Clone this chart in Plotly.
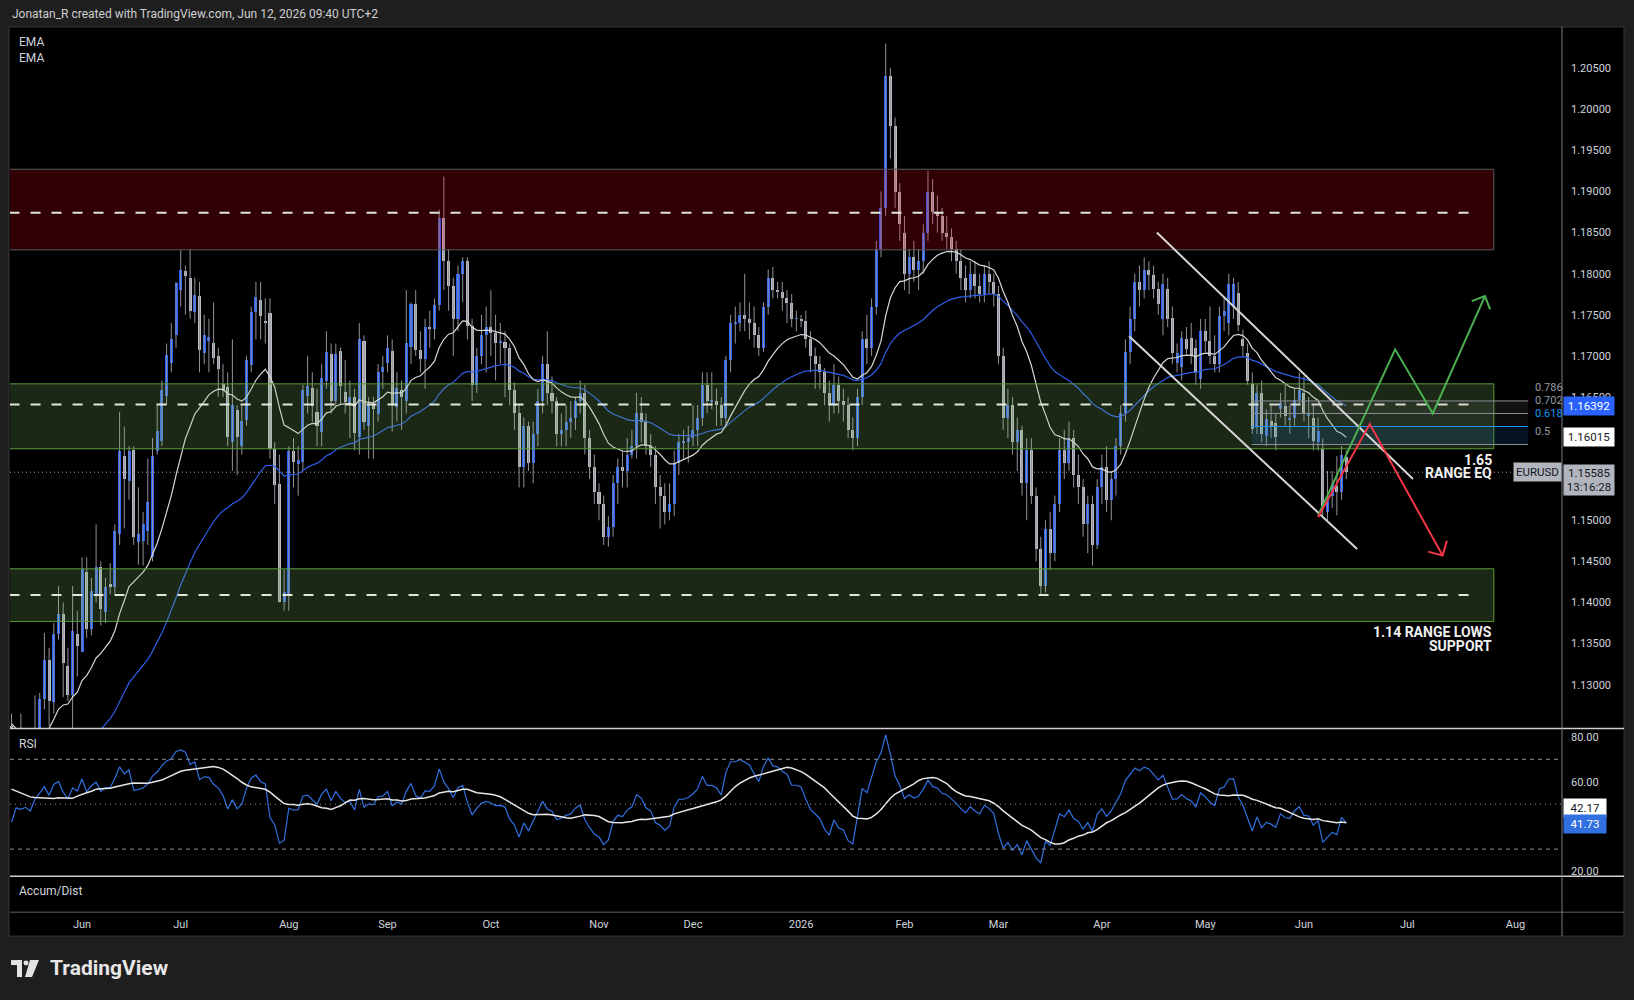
import pandas as pd
import plotly.graph_objects as go

# ---------------- DATA: EURUSD daily candles (open, high, low, close) -------------
may_2025 = [
    (1.1250, 1.1265, 1.1065, 1.1089), (1.1089, 1.1195, 1.1075, 1.1186), (1.1186, 1.1265, 1.1170, 1.1175),
    (1.1175, 1.1210, 1.1130, 1.1188), (1.1188, 1.1228, 1.1130, 1.1163), (1.1163, 1.1287, 1.1150, 1.1242),
    (1.1242, 1.1290, 1.1210, 1.1283), (1.1283, 1.1363, 1.1270, 1.1330), (1.1330, 1.1345, 1.1250, 1.1280),
    (1.1279, 1.1375, 1.1265, 1.1362), (1.1362, 1.1420, 1.1355, 1.1386), (1.1386, 1.1400, 1.1285, 1.1326),
    (1.1323, 1.1345, 1.1280, 1.1287), (1.1287, 1.1420, 1.1210, 1.1365), (1.1362, 1.1390, 1.1310, 1.1347),
]
jun_2025 = [
    (1.1340, 1.1455, 1.1340, 1.1441), (1.1437, 1.1455, 1.1357, 1.1368), (1.1368, 1.1430, 1.1360, 1.1414),
    (1.1410, 1.1495, 1.1400, 1.1443), (1.1443, 1.1450, 1.1372, 1.1392), (1.1389, 1.1430, 1.1375, 1.1419),
    (1.1422, 1.1448, 1.1410, 1.1420), (1.1419, 1.1495, 1.1410, 1.1487), (1.1483, 1.1632, 1.1470, 1.1584),
    (1.1578, 1.1614, 1.1490, 1.1550), (1.1548, 1.1590, 1.1525, 1.1584), (1.1585, 1.1590, 1.1470, 1.1480),
    (1.1474, 1.1540, 1.1446, 1.1484), (1.1475, 1.1510, 1.1445, 1.1496), (1.1487, 1.1575, 1.1470, 1.1522),
    (1.1455, 1.1600, 1.1450, 1.1578), (1.1584, 1.1640, 1.1580, 1.1609), (1.1596, 1.1670, 1.1590, 1.1659),
    (1.1651, 1.1715, 1.1640, 1.1701), (1.1692, 1.1740, 1.1680, 1.1720), (1.1726, 1.1790, 1.1710, 1.1789),
]
jul_2025 = [
    (1.1780, 1.1829, 1.1760, 1.1805), (1.1803, 1.1810, 1.1750, 1.1797), (1.1795, 1.1830, 1.1745, 1.1755),
    (1.1754, 1.1795, 1.1740, 1.1774), (1.1773, 1.1790, 1.1680, 1.1707), (1.1704, 1.1750, 1.1690, 1.1725),
    (1.1718, 1.1745, 1.1680, 1.1723), (1.1716, 1.1765, 1.1690, 1.1698), (1.1700, 1.1710, 1.1650, 1.1684),
    (1.1666, 1.1690, 1.1650, 1.1657), (1.1662, 1.1680, 1.1590, 1.1601), (1.1595, 1.1720, 1.1560, 1.1640),
    (1.1634, 1.1640, 1.1555, 1.1601), (1.1590, 1.1640, 1.1580, 1.1621), (1.1622, 1.1700, 1.1615, 1.1695),
    (1.1689, 1.1760, 1.1680, 1.1754), (1.1753, 1.1790, 1.1720, 1.1772), (1.1768, 1.1790, 1.1720, 1.1748),
    (1.1743, 1.1770, 1.1715, 1.1740), (1.1752, 1.1770, 1.1575, 1.1587), (1.1587, 1.1595, 1.1520, 1.1543),
    (1.1544, 1.1580, 1.1400, 1.1401), (1.1401, 1.1440, 1.1390, 1.1413),
]
aug_2025 = [
    (1.1411, 1.1590, 1.1390, 1.1584), (1.1584, 1.1600, 1.1540, 1.1571), (1.1568, 1.1590, 1.1530, 1.1574),
    (1.1571, 1.1665, 1.1560, 1.1659), (1.1651, 1.1700, 1.1630, 1.1664), (1.1661, 1.1680, 1.1620, 1.1639),
    (1.1632, 1.1660, 1.1590, 1.1615), (1.1607, 1.1690, 1.1590, 1.1673), (1.1669, 1.1730, 1.1660, 1.1705),
    (1.1702, 1.1715, 1.1630, 1.1645), (1.1645, 1.1715, 1.1640, 1.1702), (1.1706, 1.1710, 1.1640, 1.1664),
    (1.1656, 1.1695, 1.1630, 1.1644), (1.1642, 1.1670, 1.1600, 1.1650), (1.1650, 1.1660, 1.1585, 1.1606),
    (1.1601, 1.1740, 1.1580, 1.1721), (1.1718, 1.1725, 1.1610, 1.1620), (1.1615, 1.1650, 1.1575, 1.1640),
    (1.1641, 1.1650, 1.1575, 1.1635), (1.1629, 1.1690, 1.1620, 1.1681), (1.1681, 1.1700, 1.1660, 1.1686),
]
sep_2025 = [
    (1.1692, 1.1725, 1.1680, 1.1710), (1.1706, 1.1720, 1.1608, 1.1641), (1.1638, 1.1680, 1.1620, 1.1661),
    (1.1658, 1.1670, 1.1610, 1.1650), (1.1645, 1.1780, 1.1630, 1.1716), (1.1711, 1.1765, 1.1690, 1.1763),
    (1.1763, 1.1780, 1.1700, 1.1707), (1.1707, 1.1730, 1.1680, 1.1696), (1.1696, 1.1745, 1.1660, 1.1735),
    (1.1735, 1.1755, 1.1710, 1.1733), (1.1733, 1.1770, 1.1720, 1.1762), (1.1762, 1.1878, 1.1755, 1.1868),
    (1.1868, 1.1918, 1.1780, 1.1815), (1.1815, 1.1830, 1.1755, 1.1785), (1.1785, 1.1795, 1.1700, 1.1745),
    (1.1745, 1.1810, 1.1730, 1.1800), (1.1800, 1.1820, 1.1765, 1.1815), (1.1815, 1.1820, 1.1720, 1.1737),
    (1.1737, 1.1745, 1.1645, 1.1665), (1.1665, 1.1710, 1.1655, 1.1700), (1.1700, 1.1750, 1.1690, 1.1725),
    (1.1725, 1.1760, 1.1680, 1.1735),
]
oct_2025 = [
    (1.1735, 1.1780, 1.1700, 1.1728), (1.1728, 1.1750, 1.1670, 1.1716), (1.1716, 1.1740, 1.1690, 1.1717),
    (1.1717, 1.1730, 1.1650, 1.1710), (1.1710, 1.1715, 1.1640, 1.1658), (1.1658, 1.1668, 1.1610, 1.1630),
    (1.1630, 1.1640, 1.1540, 1.1565), (1.1565, 1.1625, 1.1540, 1.1615), (1.1615, 1.1620, 1.1560, 1.1570),
    (1.1570, 1.1620, 1.1545, 1.1605), (1.1605, 1.1660, 1.1590, 1.1645), (1.1645, 1.1700, 1.1630, 1.1690),
    (1.1690, 1.1730, 1.1640, 1.1655), (1.1655, 1.1675, 1.1630, 1.1645), (1.1645, 1.1650, 1.1590, 1.1605),
    (1.1605, 1.1630, 1.1590, 1.1610), (1.1610, 1.1640, 1.1590, 1.1620), (1.1620, 1.1645, 1.1600, 1.1625),
    (1.1625, 1.1650, 1.1610, 1.1645), (1.1645, 1.1670, 1.1630, 1.1655), (1.1655, 1.1665, 1.1580, 1.1600),
    (1.1600, 1.1610, 1.1550, 1.1565), (1.1565, 1.1580, 1.1520, 1.1535),
]
nov_2025 = [
    (1.1535, 1.1545, 1.1500, 1.1520), (1.1520, 1.1530, 1.1470, 1.1480), (1.1480, 1.1505, 1.1468, 1.1492),
    (1.1492, 1.1555, 1.1480, 1.1545), (1.1545, 1.1575, 1.1520, 1.1565), (1.1565, 1.1585, 1.1540, 1.1560),
    (1.1560, 1.1600, 1.1540, 1.1580), (1.1580, 1.1610, 1.1575, 1.1590), (1.1590, 1.1655, 1.1575, 1.1630),
    (1.1630, 1.1650, 1.1595, 1.1620), (1.1620, 1.1630, 1.1580, 1.1590), (1.1590, 1.1605, 1.1565, 1.1580),
    (1.1580, 1.1590, 1.1520, 1.1540), (1.1540, 1.1555, 1.1490, 1.1530), (1.1530, 1.1545, 1.1495, 1.1510),
    (1.1510, 1.1545, 1.1500, 1.1520), (1.1520, 1.1585, 1.1505, 1.1570), (1.1570, 1.1605, 1.1555, 1.1595),
    (1.1595, 1.1610, 1.1575, 1.1595), (1.1595, 1.1615, 1.1570, 1.1600),
]
dec_2025 = [
    (1.1600, 1.1640, 1.1590, 1.1610), (1.1610, 1.1640, 1.1590, 1.1625), (1.1625, 1.1680, 1.1615, 1.1665),
    (1.1665, 1.1680, 1.1630, 1.1645), (1.1645, 1.1680, 1.1635, 1.1645), (1.1645, 1.1660, 1.1615, 1.1640),
    (1.1640, 1.1650, 1.1615, 1.1625), (1.1625, 1.1700, 1.1615, 1.1695), (1.1695, 1.1750, 1.1680, 1.1740),
    (1.1740, 1.1760, 1.1715, 1.1740), (1.1740, 1.1765, 1.1730, 1.1750), (1.1750, 1.1800, 1.1730, 1.1745),
    (1.1745, 1.1765, 1.1720, 1.1740), (1.1740, 1.1760, 1.1710, 1.1725), (1.1725, 1.1735, 1.1700, 1.1710),
    (1.1710, 1.1765, 1.1705, 1.1760), (1.1760, 1.1805, 1.1750, 1.1795), (1.1795, 1.1808, 1.1770, 1.1780),
    (1.1780, 1.1790, 1.1770, 1.1778), (1.1778, 1.1790, 1.1755, 1.1770), (1.1770, 1.1780, 1.1740, 1.1765),
    (1.1765, 1.1775, 1.1735, 1.1745), (1.1745, 1.1755, 1.1730, 1.1745),
]
jan_2026 = [
    (1.1745, 1.1750, 1.1735, 1.1742), (1.1742, 1.1755, 1.1710, 1.1720), (1.1720, 1.1730, 1.1680, 1.1700),
    (1.1700, 1.1710, 1.1660, 1.1690), (1.1690, 1.1700, 1.1660, 1.1680), (1.1680, 1.1685, 1.1640, 1.1655),
    (1.1655, 1.1670, 1.1620, 1.1640), (1.1640, 1.1690, 1.1630, 1.1665), (1.1665, 1.1675, 1.1630, 1.1645),
    (1.1645, 1.1660, 1.1620, 1.1640), (1.1640, 1.1650, 1.1600, 1.1610), (1.1610, 1.1625, 1.1585, 1.1600),
    (1.1600, 1.1660, 1.1590, 1.1650), (1.1650, 1.1730, 1.1640, 1.1720), (1.1720, 1.1750, 1.1690, 1.1710),
    (1.1710, 1.1770, 1.1700, 1.1760), (1.1760, 1.1840, 1.1750, 1.1830), (1.1830, 1.1900, 1.1820, 1.1880),
    (1.1880, 1.2080, 1.1870, 1.2040), (1.2040, 1.2050, 1.1940, 1.1980), (1.1980, 1.1990, 1.1880, 1.1900),
    (1.1900, 1.1910, 1.1840, 1.1860),
]
feb_2026 = [
    (1.1850, 1.1870, 1.1780, 1.1800), (1.1800, 1.1830, 1.1775, 1.1820), (1.1820, 1.1840, 1.1790, 1.1805),
    (1.1805, 1.1830, 1.1780, 1.1815), (1.1815, 1.1860, 1.1800, 1.1850), (1.1850, 1.1925, 1.1840, 1.1900),
    (1.1900, 1.1915, 1.1860, 1.1875), (1.1875, 1.1895, 1.1850, 1.1870), (1.1870, 1.1880, 1.1840, 1.1850),
    (1.1850, 1.1870, 1.1830, 1.1845), (1.1845, 1.1855, 1.1815, 1.1830), (1.1830, 1.1840, 1.1800, 1.1815),
    (1.1815, 1.1830, 1.1780, 1.1795), (1.1795, 1.1810, 1.1765, 1.1780), (1.1780, 1.1815, 1.1770, 1.1800),
    (1.1800, 1.1815, 1.1770, 1.1785), (1.1785, 1.1800, 1.1765, 1.1775), (1.1775, 1.1810, 1.1765, 1.1800),
    (1.1800, 1.1815, 1.1775, 1.1790), (1.1790, 1.1800, 1.1760, 1.1775),
]
mar_2026 = [
    (1.1775, 1.1785, 1.1690, 1.1700), (1.1700, 1.1710, 1.1610, 1.1625), (1.1625, 1.1660, 1.1600, 1.1640),
    (1.1640, 1.1650, 1.1580, 1.1595), (1.1595, 1.1625, 1.1560, 1.1610), (1.1610, 1.1615, 1.1530, 1.1545),
    (1.1545, 1.1600, 1.1500, 1.1585), (1.1585, 1.1600, 1.1520, 1.1530), (1.1530, 1.1540, 1.1450, 1.1465),
    (1.1465, 1.1480, 1.1410, 1.1420), (1.1420, 1.1500, 1.1412, 1.1490), (1.1490, 1.1510, 1.1440, 1.1460),
    (1.1460, 1.1530, 1.1450, 1.1520), (1.1520, 1.1600, 1.1510, 1.1585), (1.1585, 1.1610, 1.1550, 1.1570),
    (1.1570, 1.1620, 1.1560, 1.1600), (1.1600, 1.1610, 1.1540, 1.1555), (1.1555, 1.1580, 1.1520, 1.1540),
    (1.1540, 1.1550, 1.1480, 1.1495), (1.1495, 1.1530, 1.1460, 1.1520), (1.1520, 1.1530, 1.1445, 1.1470),
    (1.1470, 1.1550, 1.1465, 1.1540),
]
apr_2026 = [
    (1.1540, 1.1580, 1.1520, 1.1565), (1.1565, 1.1590, 1.1510, 1.1525), (1.1525, 1.1560, 1.1500, 1.1550),
    (1.1550, 1.1600, 1.1530, 1.1590), (1.1590, 1.1640, 1.1580, 1.1630), (1.1630, 1.1720, 1.1620, 1.1705),
    (1.1705, 1.1760, 1.1690, 1.1745), (1.1745, 1.1800, 1.1730, 1.1790), (1.1790, 1.1810, 1.1760, 1.1780),
    (1.1780, 1.1820, 1.1770, 1.1805), (1.1805, 1.1815, 1.1780, 1.1799), (1.1799, 1.1810, 1.1770, 1.1781),
    (1.1781, 1.1790, 1.1750, 1.1763), (1.1745, 1.1800, 1.1725, 1.1787), (1.1781, 1.1795, 1.1735, 1.1745),
    (1.1746, 1.1760, 1.1690, 1.1703), (1.1692, 1.1715, 1.1680, 1.1704), (1.1686, 1.1730, 1.1670, 1.1722),
    (1.1720, 1.1735, 1.1700, 1.1708), (1.1722, 1.1740, 1.1690, 1.1700), (1.1710, 1.1720, 1.1665, 1.1680),
    (1.1672, 1.1745, 1.1660, 1.1730),
]
may_2026 = [
    (1.1730, 1.1745, 1.1705, 1.1718), (1.1718, 1.1760, 1.1690, 1.1700), (1.1700, 1.1725, 1.1680, 1.1690),
    (1.1690, 1.1760, 1.1680, 1.1748), (1.1748, 1.1770, 1.1730, 1.1755), (1.1740, 1.1800, 1.1725, 1.1787),
    (1.1760, 1.1795, 1.1745, 1.1788), (1.1777, 1.1790, 1.1730, 1.1738), (1.1720, 1.1732, 1.1700, 1.1712),
    (1.1704, 1.1715, 1.1665, 1.1670), (1.1666, 1.1680, 1.1605, 1.1611), (1.1615, 1.1665, 1.1605, 1.1655),
    (1.1655, 1.1670, 1.1595, 1.1605), (1.1603, 1.1635, 1.1590, 1.1623), (1.1621, 1.1640, 1.1600, 1.1615),
    (1.1619, 1.1630, 1.1585, 1.1601), (1.1635, 1.1655, 1.1625, 1.1643), (1.1639, 1.1665, 1.1615, 1.1627),
    (1.1623, 1.1640, 1.1605, 1.1625), (1.1625, 1.1660, 1.1615, 1.1647), (1.1647, 1.1680, 1.1640, 1.1659),
]
jun_2026 = [
    (1.1655, 1.1675, 1.1620, 1.1631), (1.1627, 1.1650, 1.1600, 1.1629), (1.1625, 1.1640, 1.1585, 1.1597),
    (1.1595, 1.1625, 1.1585, 1.1609), (1.1587, 1.1600, 1.1506, 1.1518), (1.1510, 1.1560, 1.1500, 1.1530),
    (1.1530, 1.1560, 1.1515, 1.1544), (1.1542, 1.1578, 1.1506, 1.1534), (1.1534, 1.1590, 1.1525, 1.1579),
    (1.1577, 1.1585, 1.1550, 1.15585),
]

first_bar_date = "2025-05-12"
axis_end_date = "2026-08-31"

ema_fast_len, ema_slow_len = 20, 50
ema_fast_seed, ema_slow_seed = 1.1270, 1.1150
rsi_len, rsi_ma_len = 14, 14
rsi_prev_close, rsi_seed_gain, rsi_seed_loss = 1.1250, 0.0027, 0.0025
rsi_history = [60, 62, 58, 60, 57, 56, 60, 58, 57, 56, 57, 56, 55]

# tick labels left visible by the value tags on the right scale
price_ticks = [1.130, 1.135, 1.140, 1.145, 1.150, 1.165, 1.170, 1.175,
               1.180, 1.185, 1.190, 1.195, 1.200, 1.205]
rsi_ticks = [20, 60, 80]

# chart drawings (price levels / anchor points from the picture)
supply_zone = (1.1829, 1.1927, 1.1874)          # low, high, mid
range_eq_zone = (1.1587, 1.1666, 1.1641)
range_low_zone = (1.1377, 1.1441, 1.1409)
fib_levels = [("0.786", 1.16452), ("0.702", 1.16299), ("0.618", 1.16141), ("0.5", 1.15922)]
channel_upper = ([243.7, 298.2], [1.18500, 1.15502])
channel_lower = ([237.8, 286.3], [1.17238, 1.14652])
bull_path = ([278.0, 294.4, 302.4, 313.5], [1.15056, 1.17080, 1.16299, 1.17727])
bull_head = ([310.7, 313.5, 314.6], [1.17666, 1.17727, 1.17566])
bear_path = ([278.0, 289.0, 304.5], [1.15037, 1.16170, 1.14571])
bear_head = ([301.4, 304.5, 305.4], [1.14619, 1.14571, 1.14753])
last_price_label = "1.15585"
countdown_label = "13:16:28"
ema_slow_label, ema_fast_label = "1.16392", "1.16015"
rsi_label, rsi_ma_label = "41.73", "42.17"

# ---------------- derived series ----------------
rows = [r for m in (may_2025, jun_2025, jul_2025, aug_2025, sep_2025, oct_2025, nov_2025, dec_2025,
                    jan_2026, feb_2026, mar_2026, apr_2026, may_2026, jun_2026) for r in m]
opens = [r[0] for r in rows]
highs = [r[1] for r in rows]
lows = [r[2] for r in rows]
closes = [r[3] for r in rows]
n = len(rows)
idx = list(range(n))
last_close = closes[-1]

dates = pd.bdate_range(first_bar_date, axis_end_date)
tick_vals, tick_text = [], []
for k in range(1, len(dates)):
    if dates[k].month != dates[k - 1].month:
        tick_vals.append(k)
        tick_text.append(str(dates[k].year) if dates[k].month == 1 else dates[k].strftime("%b"))


def ema(values, length, seed):
    a = 2.0 / (length + 1)
    out, prev = [], seed
    for v in values:
        prev = prev + a * (v - prev)
        out.append(prev)
    return out


ema_fast = ema(closes, ema_fast_len, ema_fast_seed)
ema_slow = ema(closes, ema_slow_len, ema_slow_seed)

rsi = []
ag, al, pc = rsi_seed_gain, rsi_seed_loss, rsi_prev_close
for c in closes:
    ch = c - pc
    ag = (ag * (rsi_len - 1) + max(ch, 0)) / rsi_len
    al = (al * (rsi_len - 1) + max(-ch, 0)) / rsi_len
    rsi.append(100 - 100 / (1 + ag / al))
    pc = c
full_rsi = rsi_history + rsi
rsi_ma = [sum(full_rsi[k - rsi_ma_len + 1:k + 1]) / rsi_ma_len for k in range(len(rsi_history), len(full_rsi))]

# ---------------- figure ----------------
W, H = 1634, 1000
FONT = "Roboto, 'Liberation Sans', sans-serif"
TXT = "#d1d4dc"
BLUE = "#2962ff"
BEAR = "#b9bcc3"
WICK = "#8f9298"


def px(x):
    return x / W


def py(y):
    return 1 - y / H


X0, X1 = px(10), px(1562)
x_range = [-0.32, 329.9]
wick_x, wick_y = [], []
for i in idx:
    wick_x += [i, i, None]
    wick_y += [lows[i], highs[i], None]

body_base = [min(o, c) for o, c in zip(opens, closes)]
body_h = [max(abs(c - o), 0.0001) for o, c in zip(opens, closes)]
body_col = [BLUE if c >= o else BEAR for o, c in zip(opens, closes)]

fig = go.Figure()
fig.add_trace(go.Scatter(x=wick_x, y=wick_y, mode="lines", line=dict(color=WICK, width=1),
                         hoverinfo="skip", xaxis="x", yaxis="y"))
fig.add_trace(go.Bar(x=idx, y=body_h, base=body_base, width=0.64, marker=dict(color=body_col, line=dict(width=0)),
                     xaxis="x", yaxis="y"))
fig.add_trace(go.Scatter(x=idx, y=ema_slow, mode="lines", line=dict(color="#2f5fe8", width=1.2), xaxis="x", yaxis="y"))
fig.add_trace(go.Scatter(x=idx, y=ema_fast, mode="lines", line=dict(color="#d8d8d8", width=1.2), xaxis="x", yaxis="y"))
fig.add_trace(go.Scatter(x=idx, y=rsi, mode="lines", line=dict(color="#3070e0", width=1.2), xaxis="x", yaxis="y2"))
fig.add_trace(go.Scatter(x=idx, y=rsi_ma, mode="lines", line=dict(color="#e6e6e6", width=1.5), xaxis="x", yaxis="y2"))
# empty Accum/Dist pane (carries the shared time axis)
fig.add_trace(go.Scatter(x=[idx[0]], y=[0.5], mode="markers", marker=dict(opacity=0), hoverinfo="skip",
                         xaxis="x", yaxis="y3"))

shapes = []
# frame
shapes.append(dict(type="rect", xref="paper", yref="paper", x0=px(9), x1=px(1624), y0=py(938), y1=py(27),
                   fillcolor="#000000", line=dict(color="#363636", width=1), layer="below"))


def zone(z, fill, border):
    lo, hi, mid = z
    shapes.append(dict(type="rect", xref="x", yref="y", x0=x_range[0] - 1, x1=315.4, y0=lo, y1=hi,
                       fillcolor=fill, line=dict(color=border, width=1), layer="above"))
    shapes.append(dict(type="line", xref="x", yref="y", x0=x_range[0] - 0.1, x1=310.7, y0=mid, y1=mid,
                       line=dict(color="rgba(236,240,230,0.95)", width=2, dash="10px,11px"), layer="above"))


zone(supply_zone, "rgba(240,0,20,0.20)", "#5a5a5a")
zone(range_eq_zone, "rgba(135,200,110,0.20)", "#5a9a3c")
zone(range_low_zone, "rgba(135,200,110,0.20)", "#5a9a3c")

# fib bands + lines
fib_x0, fib_x1 = 263.9, 322.7
band_cols = ["rgba(140,140,150,0.13)", "rgba(120,123,134,0.09)", "rgba(33,120,220,0.16)"]
for k in range(3):
    shapes.append(dict(type="rect", xref="x", yref="y", x0=fib_x0, x1=fib_x1, y0=fib_levels[k + 1][1],
                       y1=fib_levels[k][1], fillcolor=band_cols[k], line=dict(width=0), layer="above"))
fib_cols = ["#8a8d96", "#8a8d96", "#2196f3", "#8a8d96"]
for (lab, lv), col in zip(fib_levels, fib_cols):
    shapes.append(dict(type="line", xref="x", yref="y", x0=fib_x0, x1=fib_x1, y0=lv, y1=lv,
                       line=dict(color=col, width=1), layer="above"))

# current price dotted line
shapes.append(dict(type="line", xref="x", yref="y", x0=x_range[0], x1=320.5, y0=last_close, y1=last_close,
                   line=dict(color="#a0a3aa", width=1, dash="1px,3px"), layer="above"))

# channel
for cx, cy in (channel_upper, channel_lower):
    shapes.append(dict(type="line", xref="x", yref="y", x0=cx[0], x1=cx[1], y0=cy[0], y1=cy[1],
                       line=dict(color="#d6d6d6", width=2), layer="above"))


def polyline(xs, ys, color):
    path = "M " + " L ".join(f"{a},{b}" for a, b in zip(xs, ys))
    shapes.append(dict(type="path", xref="x", yref="y", path=path, line=dict(color=color, width=2),
                       layer="above"))


polyline(*bull_path, "#4caf50")
polyline(*bull_head, "#4caf50")
polyline(*bear_path, "#f23645")
polyline(*bear_head, "#f23645")

# RSI guide lines
for lv, dash in ((70, "4px,4px"), (30, "4px,4px"), (50, "1px,4px")):
    shapes.append(dict(type="line", xref="paper", yref="y2", x0=X0, x1=X1, y0=lv, y1=lv,
                       line=dict(color="#8c8f98", width=1, dash=dash)))

# pane dividers and axis separators
shapes.append(dict(type="line", xref="paper", yref="paper", x0=px(10), x1=px(1624), y0=py(730), y1=py(730),
                   line=dict(color="#d0d0d0", width=1.5)))
shapes.append(dict(type="line", xref="paper", yref="paper", x0=px(10), x1=px(1624), y0=py(878), y1=py(878),
                   line=dict(color="#d0d0d0", width=1.5)))
shapes.append(dict(type="line", xref="paper", yref="paper", x0=px(10), x1=px(1624), y0=py(914), y1=py(914),
                   line=dict(color="#5d606b", width=1)))
shapes.append(dict(type="line", xref="paper", yref="paper", x0=X1, x1=X1, y0=py(938), y1=py(27),
                   line=dict(color="#7a7d85", width=1)))

# TradingView logo mark
LOGO = "#e3e3e3"
shapes.append(dict(type="rect", xref="paper", yref="paper", x0=px(11), x1=px(22), y0=py(967), y1=py(962),
                   fillcolor=LOGO, line=dict(width=0)))
shapes.append(dict(type="rect", xref="paper", yref="paper", x0=px(17), x1=px(22), y0=py(979), y1=py(962),
                   fillcolor=LOGO, line=dict(width=0)))
shapes.append(dict(type="circle", xref="paper", yref="paper", x0=px(23.5), x1=px(28.5), y0=py(967.5),
                   y1=py(962.5), fillcolor=LOGO, line=dict(width=0)))
shapes.append(dict(type="path", xref="paper", yref="paper",
                   path=f"M {px(30)},{py(962)} L {px(39)},{py(962)} L {px(32)},{py(979)} L {px(25)},{py(979)} Z",
                   fillcolor=LOGO, line=dict(width=0)))

ann = []


def text(x, y, s, size=12, color=TXT, xanchor="left", bold=False, **kw):
    ann.append(dict(xref="paper", yref="paper", x=px(x), y=py(y), text=s, showarrow=False, xanchor=xanchor,
                    yanchor="middle", font=dict(family=FONT, size=size, color=color,
                                                weight="bold" if bold else "normal"), **kw))


text(10, 14, "Jonatan_R created with TradingView.com, Jun 12, 2026 09:40 UTC+2", 12, "#cfcfcf")
text(17, 42, "EMA", 12)
text(17, 58, "EMA", 12)
text(17, 745, "RSI", 12)
text(17, 893, "Accum/Dist", 12)
text(1494, 460.5, "1.65", 14, "#f0f0f0", "right", True)
text(1494, 474, "RANGE EQ", 14, "#f0f0f0", "right", True)
text(1494, 633, "1.14 RANGE LOWS", 14, "#f0f0f0", "right", True)
text(1494, 647, "SUPPORT", 14, "#f0f0f0", "right", True)
text(48, 970, "TradingView", 21, "#e6e6e6", "left", True)

for (lab, lv), col in zip(fib_levels, ["#9598a1", "#9598a1", "#2196f3", "#9598a1"]):
    ann.append(dict(xref="paper", yref="y", x=px(1533), y=lv, yshift=13, text=lab, showarrow=False,
                    xanchor="left", yanchor="middle", font=dict(family=FONT, size=11, color=col)))


def tag(y, yref, s, bg, fg, yshift=0, w=46, h=None):
    d = dict(xref="paper", yref=yref, x=X1 + px(1), y=y, text=s, showarrow=False, xanchor="left",
             yanchor="middle", bgcolor=bg, borderpad=2, width=w, align="center", yshift=yshift,
             font=dict(family=FONT, size=11.5, color=fg))
    if h:
        d["height"] = h
    ann.append(d)


tag(float(ema_slow_label), "y", ema_slow_label, BLUE, "#ffffff")
tag(float(ema_fast_label), "y", ema_fast_label, "#ffffff", "#131722")
tag(last_close, "y", f"{last_price_label}<br>{countdown_label}", "#b2b5be", "#131722", yshift=-8, h=26)
ann.append(dict(xref="paper", yref="y", x=X1, y=last_close, text="EURUSD", showarrow=False, xanchor="right",
                yanchor="middle", bgcolor="#b2b5be", borderpad=2,
                font=dict(family=FONT, size=11.5, color="#131722")))
tag(48.1, "y2", rsi_ma_label, "#ffffff", "#131722", w=38)
tag(41.0, "y2", rsi_label, "#3070e0", "#ffffff", w=38)

axis_font = dict(family=FONT, size=11, color=TXT)
fig.update_layout(
    width=W, height=H, margin=dict(l=0, r=0, t=0, b=0),
    paper_bgcolor="#1e1e1e", plot_bgcolor="#000000", showlegend=False, bargap=0,
    shapes=shapes, annotations=ann,
    xaxis=dict(domain=[X0, X1], range=x_range, anchor="y3", showgrid=False, zeroline=False, showline=False,
               tickvals=tick_vals, ticktext=tick_text, ticks="", tickfont=axis_font, ticklabelstandoff=4),
    yaxis=dict(domain=[py(730), py(28)], range=[1.12467, 1.20989], side="right", anchor="x", showgrid=False,
               zeroline=False, tickvals=price_ticks, ticktext=[f"{v:.5f}" for v in price_ticks], ticks="",
               tickfont=axis_font, ticklabelstandoff=8),
    yaxis2=dict(domain=[py(878), py(730)], range=[17.91, 83.69], side="right", anchor="x", showgrid=False,
                zeroline=False, tickvals=rsi_ticks, ticktext=[f"{v:.2f}" for v in rsi_ticks], ticks="",
                tickfont=axis_font, ticklabelstandoff=8),
    yaxis3=dict(domain=[py(914), py(878)], range=[0, 1], side="right", anchor="x", showgrid=False,
                zeroline=False, showticklabels=False),
)

fig.write_html("out.html", config={"displayModeBar": False})
